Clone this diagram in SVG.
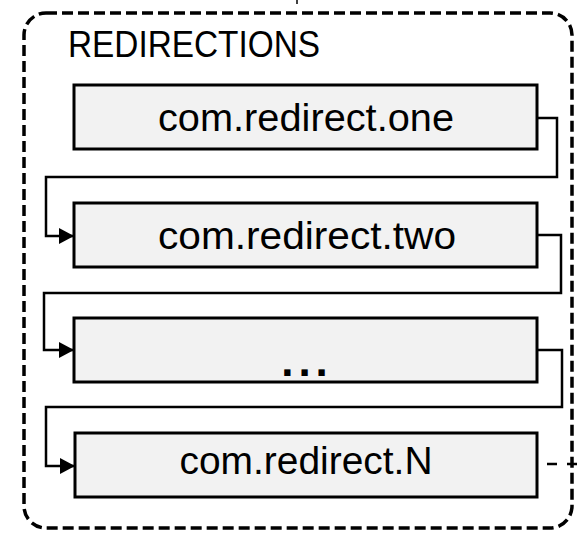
<svg xmlns="http://www.w3.org/2000/svg" width="578" height="533" viewBox="0 0 578 533">
  <style>
    .frame { fill: none; stroke: #000; stroke-width: 3.5; stroke-dasharray: 11 5; }
    .box { fill: #f2f2f2; stroke: #000; stroke-width: 3; }
    .label { font-family: "Liberation Sans", Arial, sans-serif; font-size: 39px; fill: #000; text-anchor: middle; }
    .title { font-family: "Liberation Sans", Arial, sans-serif; font-size: 37px; fill: #000; }
    .wire { fill: none; stroke: #000; stroke-width: 2.5; }
    .wire-dash { fill: none; stroke: #000; stroke-width: 2.5; stroke-dasharray: 10 10; }
  </style>
  <defs>
    <marker id="arrow" viewBox="0 0 15 16" refX="15" refY="8" markerWidth="15" markerHeight="16" markerUnits="userSpaceOnUse" orient="auto">
      <path d="M0,0 L15,8 L0,16 Z" fill="#000"/>
    </marker>
  </defs>

  <!-- incoming stub above the group -->
  <line x1="297" y1="0" x2="297" y2="4" stroke="#000" stroke-width="1.5"/>

  <!-- dashed group frame -->
  <g id="redirections">
    <rect class="frame" x="24" y="13" width="548" height="515" rx="22" ry="22"/>
    <text class="title" x="68" y="57" textLength="252" lengthAdjust="spacingAndGlyphs">REDIRECTIONS</text>
  </g>

  <!-- chain connectors -->
  <g id="connectors">
    <path class="wire" d="M537,118 H557 V177 H46 V236 H74" marker-end="url(#arrow)"/>
    <path class="wire" d="M537,235 H561 V293 H44 V350 H74" marker-end="url(#arrow)"/>
    <path class="wire" d="M537,350 H562 V407 H46 V466 H75" marker-end="url(#arrow)"/>
    <line class="wire-dash" x1="547" y1="464" x2="578" y2="464"/>
  </g>

  <g id="node-one">
    <rect class="box" x="74" y="85" width="463" height="64"/>
    <text class="label" x="306" y="131" textLength="296" lengthAdjust="spacingAndGlyphs">com.redirect.one</text>
  </g>

  <g id="node-two">
    <rect class="box" x="74" y="203" width="463" height="64"/>
    <text class="label" x="307" y="249" textLength="298" lengthAdjust="spacingAndGlyphs">com.redirect.two</text>
  </g>

  <g id="node-more">
    <rect class="box" x="74" y="318" width="463" height="64"/>
    <text class="label" x="307" y="376" style="font-weight:bold;font-size:44px;letter-spacing:5px">...</text>
  </g>

  <g id="node-n">
    <rect class="box" x="75" y="433" width="462" height="64"/>
    <text class="label" x="306" y="474" textLength="253" lengthAdjust="spacingAndGlyphs">com.redirect.N</text>
  </g>
</svg>
